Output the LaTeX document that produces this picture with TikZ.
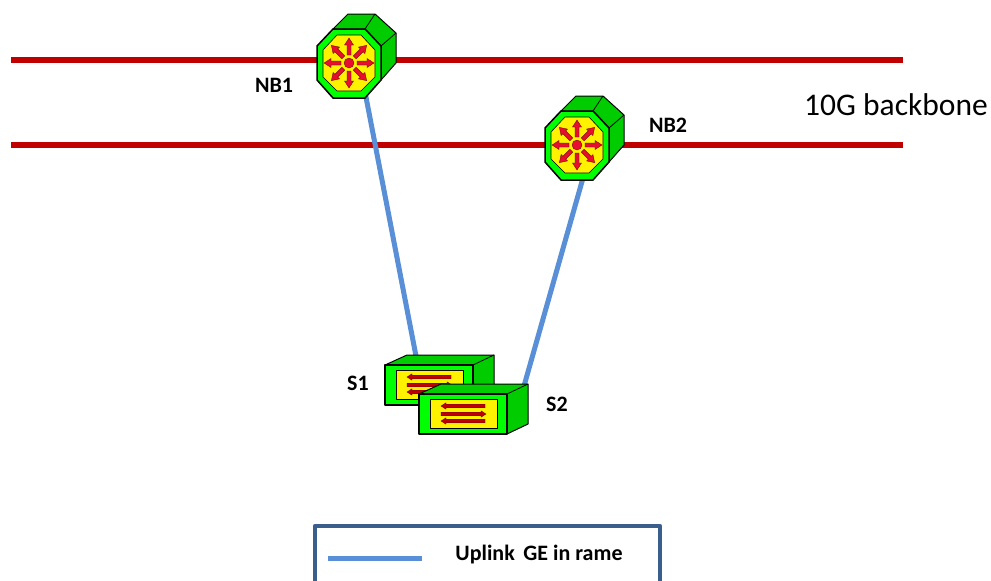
\documentclass[tikz,border=0pt]{standalone}
\usepackage{fontspec}
\setmainfont{Carlito}
\usetikzlibrary{calc,positioning}
\definecolor{backbonered}{RGB}{192,0,0}
\definecolor{uplinkblue}{RGB}{88,143,214}
\definecolor{legendblue}{RGB}{58,95,140}
\definecolor{faceg}{RGB}{0,204,0}
\definecolor{frontg}{RGB}{0,255,0}
\definecolor{arrowred}{RGB}{230,15,50}
\tikzset{
  backbone/.style={draw=backbonered,line width=6.5pt},
  uplink/.style={draw=uplinkblue,line width=5pt},
  lbl/.style={font=\bfseries\fontsize{22}{24}\selectfont},
  outl/.style={draw=black,line width=1pt,line join=round},
  nbrouter/.pic={
    % body faces
    \filldraw[outl,fill=faceg] (-16,-34)--(-1,-49)--(26,-49)--(47,-30)--(47,0)--(32,17)--(32,-17)--(16,-34)--cycle;
    \draw[black,line width=.8pt] (16,-34)--(26,-49) (32,-17)--(47,-30);
    % front octagon
    \filldraw[outl,line width=1.5pt,fill=frontg] (-16,-34)--(16,-34)--(32,-17)--(32,17)--(16,35)--(-16,35)--(-32,17)--(-32,-17)--cycle;
    \filldraw[draw=black,line width=.6pt,fill=yellow] (-12,-28)--(12,-28)--(26,-13)--(26,14)--(12,28)--(-12,28)--(-26,14)--(-26,-13)--cycle;
    \foreach \a in {0,45,...,315}
      \filldraw[rotate=\a,draw=black!60!red,line width=.3pt,fill=arrowred] (8,-2)--(18,-2)--(18,-4.5)--(25,0)--(18,4.5)--(18,2)--(8,2)--cycle;
    \filldraw[draw=black!60!red,line width=.3pt,fill=arrowred] (0,0) circle (5);
  },
  acswitch/.pic={
    % anchored at front top left corner
    \filldraw[outl,fill=faceg] (0,0)--(22,-10)--(109,-10)--(109,30)--(88,40)--(88,0)--cycle;
    \draw[black,line width=.8pt] (88,0)--(109,-10);
    \filldraw[outl,line width=1.5pt,fill=frontg] (0,0) rectangle (88,40);
    \filldraw[draw=black,line width=.6pt,fill=yellow] (11,5) rectangle (78,34);
    \foreach \yy in {12,27}
      \filldraw[draw=black!60!red,line width=.3pt,fill=backbonered] (66,\yy-1.8)--(27,\yy-1.8)--(27,\yy-3.2)--(22,\yy)--(27,\yy+3.2)--(27,\yy+1.8)--(66,\yy+1.8)--cycle;
    \filldraw[draw=black!60!red,line width=.3pt,fill=backbonered] (22,18.2)--(62,18.2)--(62,16.8)--(67,20)--(62,23.2)--(62,21.8)--(22,21.8)--cycle;
  }
}
\begin{document}
\begin{tikzpicture}[x=1pt,y=-1pt]
\useasboundingbox (0,0) rectangle (991,581);
\clip (0,0) rectangle (991,581);
\coordinate (upL) at (11,60);
\coordinate (upR) at (903,60);
\coordinate (loL) at (11,145);
\coordinate (loR) at (903,145);
\coordinate (NB1port) at (365,92);
\coordinate (S1port) at (416,356);
\coordinate (NB2port) at (583,178);
\coordinate (S2port) at (524,386);
\coordinate (legA) at (328,558);
\coordinate (legB) at (422,558);
\draw[backbone] (upL) -- (upR);
\draw[backbone] (loL) -- (loR);
\draw[uplink] (NB1port) -- (S1port);
\draw[uplink] (NB2port) -- (S2port);
\pic at (349,63) {nbrouter};
\pic at (577,145) {nbrouter};
\pic at (385,365) {acswitch};
\pic at (419,394) {acswitch};
\node[lbl] (NB1) at (274,85) {NB1};
\node[lbl] (NB2) at (668,125) {NB2};
\node[lbl] (S1) at (358,383) {S1};
\node[lbl] (S2) at (557,404) {S2};
\node[font=\fontsize{31.5}{33}\selectfont] (bb) at (896,105) {10G backbone};
\draw[legendblue,line width=4.5pt,line join=round] (315,590) -- (315,526) -- (660,526) -- (660,590);
\draw[uplink] (legA) -- (legB);
\node[font=\bfseries\fontsize{22}{24}\selectfont] (leg) at (539,555) {Uplink\, GE in rame};
\end{tikzpicture}
\end{document}
